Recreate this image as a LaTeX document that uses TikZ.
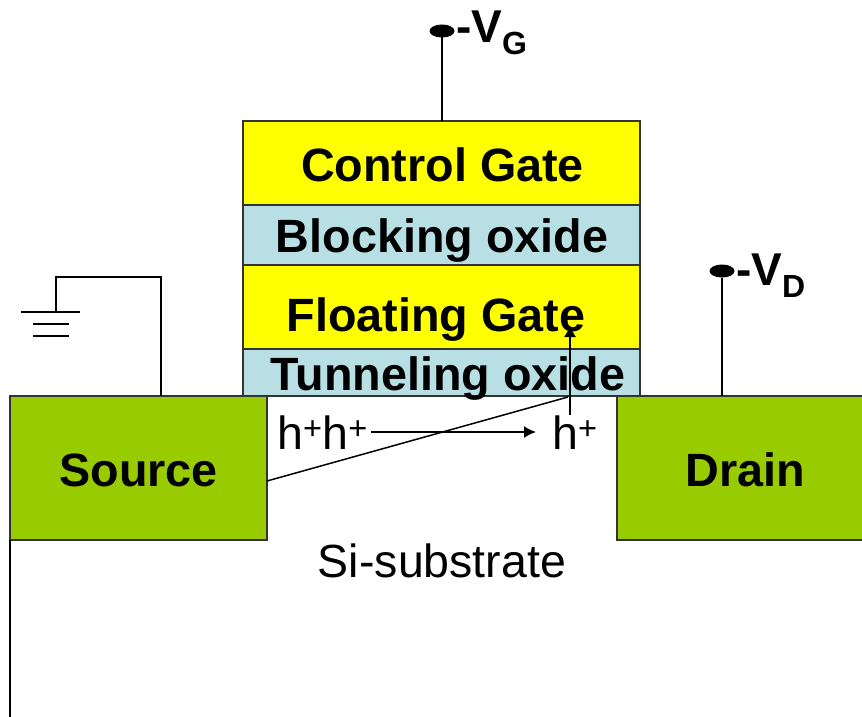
\documentclass[tikz,border=0pt]{standalone}
\usepackage{fontspec}
\usetikzlibrary{shapes.geometric,arrows.meta}
\setmainfont{Liberation Sans}
\definecolor{gateyellow}{RGB}{255,255,0}
\definecolor{oxideblue}{RGB}{184,223,228}
\definecolor{contactgreen}{RGB}{153,204,0}
\newcommand{\bigsub}[1]{\raisebox{-12pt}{\fontsize{32}{32}\selectfont #1}}
\tikzset{
  layerbox/.style={draw=black!80,line width=1.3pt,minimum width=397pt,inner sep=0pt,outer sep=0pt},
  contactbox/.style={draw=black!80,line width=1.3pt,fill=contactgreen,minimum height=144pt,inner sep=0pt,outer sep=0pt},
  boldtext/.style={anchor=base,inner sep=0pt,font=\fontsize{46.7}{46.7}\selectfont\bfseries},
  terminal/.style={ellipse,fill=black,minimum width=25pt,minimum height=13pt,inner sep=0pt,outer sep=0pt},
  wire/.style={line width=1.5pt,black},
  plain/.style={anchor=base,inner sep=0pt,font=\fontsize{46.5}{46.5}\selectfont},
  biglabel/.style={anchor=base west,inner sep=0pt,font=\fontsize{46}{46}\selectfont\bfseries},
  tip/.style={-{Latex[length=12pt,width=12pt]}},
}
\begin{document}
\begin{tikzpicture}[x=1pt,y=-1pt]
   \clip (0,0) rectangle (862,717);
   \fill[white] (0,0) rectangle (862,717);
   % contacts
   \node[contactbox,minimum width=257pt] (source) at (138.5,468) {};
   \node[contactbox,minimum width=263pt] (drain) at (748.5,468) {};
   \node[boldtext] (sourcetext) at (138.5,486) {Source};
   \node[boldtext] (draintext) at (745.5,486) {Drain};
   % gate stack
   \node[layerbox,fill=gateyellow,minimum height=84pt] (control) at (441.5,163) {};
   \node[layerbox,fill=oxideblue,minimum height=60pt] (blocking) at (441.5,235) {};
   \node[layerbox,fill=gateyellow,minimum height=84pt] (floating) at (441.5,307) {};
   \node[layerbox,fill=oxideblue,minimum height=47pt] (tunneling) at (441.5,372.5) {};
   \node[boldtext] (controltext) at (442.5,181) {Control Gate};
   \node[boldtext] (blockingtext) at (442,252) {Blocking oxide};
   \node[boldtext] (floatingtext) at (436,331) {Floating Gate};
   \node[boldtext] (tunnelingtext) at (448,390) {Tunneling oxide};
   % substrate
   \coordinate (subtop) at (10,540);
   \coordinate (subbot) at (10,717);
   \draw[wire] (subtop) -- (subbot);
   \node[plain] (substrate) at (442,577) {Si-substrate};
   % holes
   \node[plain,anchor=base west] (holesa) at (277,449) {h\textsuperscript{+}h\textsuperscript{+}};
   \node[plain,anchor=base west] (holeb) at (552,449) {h\textsuperscript{+}};
   \coordinate (arrowa) at (371,432);
   \coordinate (arrowb) at (536,432);
   \draw[wire,tip] (arrowa) -- (arrowb);
   \coordinate (upa) at (570,415);
   \coordinate (upb) at (570,325);
   \draw[wire,tip] (upa) -- (upb);
   \coordinate (diaga) at (267,481);
   \coordinate (diagb) at (568,397);
   \draw[wire] (diaga) -- (diagb);
   % gate and drain terminals
   \node[terminal] (vg) at (442,31) {};
   \node[terminal] (vd) at (722,271) {};
   \draw[wire] (vg) -- (control.north -| vg);
   \draw[wire] (vd) -- (drain.north -| vd);
   \node[biglabel] (vglabel) at (456,43) {-V\bigsub{G}};
   \node[biglabel] (vdlabel) at (736,285) {-V\bigsub{D}};
   % ground
   \coordinate (gnda) at (21,312);
   \coordinate (gndb) at (80,312);
   \coordinate (gndc) at (33,324);
   \coordinate (gndd) at (69,324);
   \coordinate (gnde) at (33,336);
   \coordinate (gndf) at (69,336);
   \coordinate (gndtap) at (56,312);
   \coordinate (gndwire) at (161,396);
   \draw[wire] (gndwire) |- (56,277) -- (gndtap);
   \draw[wire] (gnda) -- (gndb);
   \draw[wire] (gndc) -- (gndd);
   \draw[wire] (gnde) -- (gndf);
\end{tikzpicture}
\end{document}
